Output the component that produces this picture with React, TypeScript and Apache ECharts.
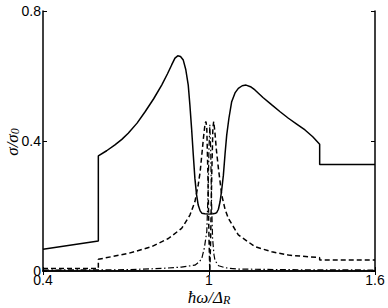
import React, { useEffect, useRef } from "react";
import * as echarts from "echarts";

const solidX = [0.4, 0.6, 0.6, 0.63, 0.66, 0.685, 0.708, 0.74, 0.769, 0.8, 0.829, 0.85, 0.865, 0.877, 0.887, 0.897, 0.907, 0.916, 0.925, 0.931, 0.937, 0.943, 0.949, 0.955, 0.961, 0.968, 0.974, 0.985, 1.0, 1.015, 1.024, 1.028, 1.034, 1.04, 1.046, 1.052, 1.058, 1.064, 1.072, 1.082, 1.094, 1.106, 1.12, 1.134, 1.15, 1.166, 1.195, 1.227, 1.257, 1.287, 1.317, 1.347, 1.375, 1.4, 1.4, 1.6];
const solidY = [0.067, 0.092, 0.354, 0.37, 0.388, 0.405, 0.424, 0.455, 0.49, 0.53, 0.572, 0.607, 0.634, 0.655, 0.662, 0.66, 0.649, 0.62, 0.572, 0.51, 0.439, 0.36, 0.285, 0.235, 0.203, 0.185, 0.178, 0.176, 0.175, 0.176, 0.178, 0.18, 0.19, 0.213, 0.25, 0.295, 0.36, 0.418, 0.47, 0.521, 0.548, 0.562, 0.57, 0.572, 0.567, 0.557, 0.534, 0.511, 0.49, 0.47, 0.452, 0.434, 0.413, 0.39, 0.328, 0.328];

const dashedX = [0.4, 0.6, 0.6, 0.708, 0.793, 0.853, 0.901, 0.931, 0.949, 0.961, 0.968, 0.974, 0.98, 0.986, 0.989, 0.992, 0.996, 1.0, 1.003, 1.006, 1.01, 1.014, 1.017, 1.021, 1.027, 1.034, 1.046, 1.058, 1.07, 1.106, 1.166, 1.227, 1.287, 1.4, 1.4, 1.6];
const dashedY = [0.008, 0.008, 0.036, 0.054, 0.075, 0.1, 0.131, 0.172, 0.213, 0.265, 0.305, 0.357, 0.41, 0.455, 0.46, 0.44, 0.3, 0.1, 0.0, 0.1, 0.3, 0.44, 0.46, 0.43, 0.37, 0.316, 0.234, 0.19, 0.162, 0.111, 0.075, 0.059, 0.049, 0.041, 0.034, 0.034];

const dashDotX = [0.4, 0.7, 0.83, 0.9, 0.949, 0.965, 0.974, 0.983, 0.992, 0.997, 1.0, 1.003, 1.006, 1.009, 1.013, 1.018, 1.022, 1.035, 1.058, 1.1, 1.3, 1.6];
const dashDotY = [0.003, 0.004, 0.008, 0.012, 0.018, 0.028, 0.039, 0.07, 0.121, 0.25, 0.38, 0.45, 0.38, 0.22, 0.1, 0.05, 0.032, 0.016, 0.01, 0.006, 0.004, 0.003];

const xTicks = [0.4, 1, 1.6];
const yTicks = [0, 0.4, 0.8];
const xName = "{a|ħω/Δ}{b|R}";
const yName = "{a|σ/σ}{b|0}";

const pairs = (xs: number[], ys: number[]) => xs.map((x, i) => [x, ys[i]]);

export default function App() {
  const ref = useRef<HTMLDivElement>(null);
  useEffect(() => {
    if (!ref.current) return;
    const chart = echarts.init(ref.current, null, { renderer: "svg" });
    const lineCommon = { color: "#000", width: 1.5 };
    const axisLine = { show: true, lineStyle: { color: "#000", width: 1.5 } };
    const nameRich = {
      a: { fontFamily: "Liberation Serif", fontStyle: "italic", fontSize: 17, fill: "#000", color: "#000" },
      b: { fontFamily: "Liberation Serif", fontStyle: "italic", fontSize: 12, fill: "#000", color: "#000", padding: [6, 0, 0, 0] },
    };
    chart.setOption({
      animation: false,
      grid: { left: 43, top: 11, right: 13, bottom: 37, containLabel: false, outerBoundsMode: "none" },
      graphic: [
        {
          type: "text",
          x: 209,
          y: 297,
          style: { text: xName, rich: nameRich, align: "center", verticalAlign: "middle", fill: "#000" },
        },
        {
          type: "text",
          x: 12,
          y: 142,
          rotation: Math.PI / 2,
          style: { text: yName, rich: nameRich, align: "center", verticalAlign: "middle", fill: "#000" },
        },
      ],
      xAxis: [
        {
          type: "value",
          min: 0.4,
          max: 1.6,
          interval: 0.6,
          axisLine,
          axisTick: { show: true, inside: true, length: 4, customValues: xTicks, lineStyle: { color: "#000" } },
          axisLabel: { show: true, customValues: xTicks, color: "#000", fontSize: 14, fontFamily: "Liberation Sans", margin: 2, showMinLabel: true, showMaxLabel: true },
          splitLine: { show: false },
        },
        {
          type: "value",
          position: "top",
          min: 0.4,
          max: 1.6,
          interval: 0.6,
          axisLine,
          axisTick: { show: true, inside: true, length: 4, customValues: xTicks, lineStyle: { color: "#000" } },
          axisLabel: { show: false },
          splitLine: { show: false },
        },
      ],
      yAxis: [
        {
          type: "value",
          min: 0,
          max: 0.8,
          interval: 0.4,
          axisLine,
          axisTick: { show: true, inside: true, length: 4, customValues: yTicks, lineStyle: { color: "#000" } },
          axisLabel: { show: true, customValues: yTicks, color: "#000", fontSize: 14, fontFamily: "Liberation Sans", margin: 2 },
          splitLine: { show: false },
        },
        {
          type: "value",
          position: "right",
          min: 0,
          max: 0.8,
          interval: 0.4,
          axisLine,
          axisTick: { show: true, inside: true, length: 4, customValues: yTicks, lineStyle: { color: "#000" } },
          axisLabel: { show: false },
          splitLine: { show: false },
        },
      ],
      series: [
        {
          type: "line",
          data: pairs(solidX, solidY),
          showSymbol: false,
          lineStyle: { ...lineCommon, type: "solid" },
        },
        {
          type: "line",
          data: pairs(dashedX, dashedY),
          showSymbol: false,
          lineStyle: { ...lineCommon, type: [5, 3] },
        },
        {
          type: "line",
          data: pairs(dashDotX, dashDotY),
          showSymbol: false,
          lineStyle: { ...lineCommon, width: 1.2, type: [6, 2.5, 1.5, 2.5] },
        },
      ],
    });
    return () => chart.dispose();
  }, []);
  return <div ref={ref} style={{ width: 388, height: 308, position: "absolute", left: 0, top: 0 }} />;
}
